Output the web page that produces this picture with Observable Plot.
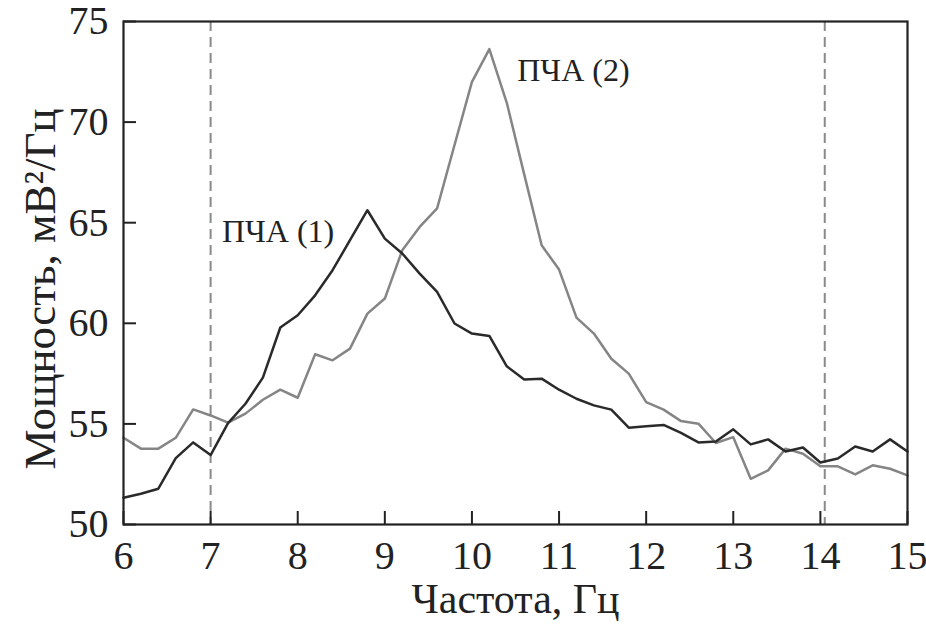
<!DOCTYPE html>
<html>
<head>
<meta charset="utf-8">
<script src="https://cdn.jsdelivr.net/npm/d3@7"></script>
<script src="https://cdn.jsdelivr.net/npm/@observablehq/plot@0.6"></script>
<style>
  html, body { margin: 0; padding: 0; background: white; }
  #chart { width: 926px; height: 629px; }
  #chart svg text { font-family: 'Liberation Serif', 'Times New Roman', serif; }
</style>
</head>
<body>
<div id="chart"></div>
<script>
// Frequency grid (Hz)
const freq = [6.0, 6.2, 6.4, 6.6, 6.8, 7.0, 7.2, 7.4, 7.6, 7.8,
              8.0, 8.2, 8.4, 8.6, 8.8, 9.0, 9.2, 9.4, 9.6, 9.8,
              10.0, 10.2, 10.4, 10.6, 10.8, 11.0, 11.2, 11.4, 11.6, 11.8,
              12.0, 12.2, 12.4, 12.6, 12.8, 13.0, 13.2, 13.4, 13.6, 13.8,
              14.0, 14.2, 14.4, 14.6, 14.8, 15.0];
// ПЧА (1) — dark curve
const pcha1 = [51.33, 51.53, 51.78, 53.30, 54.08, 53.45, 55.04, 56.00, 57.30, 59.79,
               60.40, 61.39, 62.64, 64.13, 65.62, 64.21, 63.47, 62.47, 61.56, 59.99,
               59.49, 59.37, 57.86, 57.21, 57.25, 56.70, 56.25, 55.92, 55.71, 54.81,
               54.88, 54.95, 54.55, 54.08, 54.13, 54.73, 53.98, 54.23, 53.63, 53.83,
               53.08, 53.28, 53.88, 53.63, 54.23, 53.63];
// ПЧА (2) — grey curve
const pcha2 = [54.31, 53.77, 53.77, 54.31, 55.72, 55.42, 55.06, 55.51, 56.20, 56.70,
               56.30, 58.46, 58.16, 58.74, 60.48, 61.23, 63.63, 64.79, 65.71, 68.86,
               72.00, 73.63, 70.96, 67.40, 63.88, 62.67, 60.28, 59.49, 58.24, 57.50,
               56.08, 55.71, 55.14, 55.01, 54.05, 54.34, 52.27, 52.69, 53.77, 53.52,
               52.89, 52.89, 52.49, 52.94, 52.77, 52.44];
const xTicks = [6, 7, 8, 9, 10, 11, 12, 13, 14, 15];
const yTicks = [50, 55, 60, 65, 70, 75];
const bandEdges = [7.0, 14.05];
const seriesLabels = ["ПЧА (1)", "ПЧА (2)"];
const labelX = [7.13, 10.52];
const labelY = [64.55, 72.55];
const xTitle = "Частота, Гц";
const yTitle = "Мощность, мВ²/Гц";

const rows1 = freq.map((f, i) => ({f, v: pcha1[i]}));
const rows2 = freq.map((f, i) => ({f, v: pcha2[i]}));
const labels = seriesLabels.map((t, i) => ({t, x: labelX[i], y: labelY[i]}));

const W = 926, H = 629, mL = 123, mR = 19, mT = 21, mB = 105;
const innerW = W - mL - mR, innerH = H - mT - mB;
const ink = "#222";
const serif = "'Liberation Serif', 'Times New Roman', serif";

const chart = Plot.plot({
  width: W, height: H,
  marginLeft: mL, marginRight: mR, marginTop: mT, marginBottom: mB,
  x: {domain: [6, 15]},
  y: {domain: [50, 75]},
  style: {fontFamily: serif, fontSize: "40px", color: ink, background: "white", overflow: "visible"},
  marks: [
    Plot.ruleX(bandEdges, {stroke: "#8a8a8a", strokeWidth: 2, strokeDasharray: "10,6"}),
    Plot.line(rows2, {x: "f", y: "v", stroke: "#858585", strokeWidth: 2.5}),
    Plot.line(rows1, {x: "f", y: "v", stroke: "#2a2a2a", strokeWidth: 2.5}),
    Plot.tickX(xTicks, {x: d => d, stroke: ink, strokeWidth: 2, insetTop: innerH - 13}),
    Plot.tickY(yTicks, {y: d => d, stroke: ink, strokeWidth: 2, insetRight: innerW - 13}),
    Plot.frame({stroke: ink, strokeWidth: 2.2}),
    Plot.axisX(xTicks, {tickSize: 0, tickPadding: 16, label: null, fontSize: 40, fontFamily: serif, fontVariant: "normal"}),
    Plot.axisY(yTicks, {tickSize: 0, tickPadding: 15, label: null, fontSize: 40, fontFamily: serif, fontVariant: "normal"}),
    Plot.text(labels, {x: "x", y: "y", text: "t", textAnchor: "start", fontSize: 32, fontFamily: serif, fill: ink}),
    Plot.text([xTitle], {frameAnchor: "bottom", dy: 88, fontSize: 42, fontFamily: serif, fill: ink}),
    Plot.text([yTitle], {frameAnchor: "left", textAnchor: "middle", dx: -83, dy: 16, rotate: -90, fontSize: 45, fontFamily: serif, fill: ink})
  ]
});
document.getElementById("chart").appendChild(chart);
</script>
</body>
</html>
